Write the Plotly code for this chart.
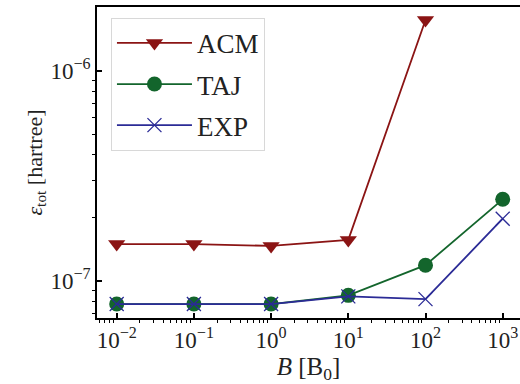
import plotly.graph_objects as go

B = [1e-2, 1e-1, 1e0, 1e1, 1e2, 1e3]
acm_B = [1e-2, 1e-1, 1e0, 1e1, 1e2]
acm = [1.50e-7, 1.50e-7, 1.47e-7, 1.57e-7, 1.75e-6]
taj = [7.77e-8, 7.77e-8, 7.77e-8, 8.55e-8, 1.19e-7, 2.45e-7]
exp_ = [7.77e-8, 7.77e-8, 7.77e-8, 8.45e-8, 8.2e-8, 1.98e-7]
x_ticktext = ["10<sup>−2</sup>", "10<sup>−1</sup>", "10<sup>0</sup>", "10<sup>1</sup>", "10<sup>2</sup>", "10<sup>3</sup>"]
y_tickvals = [1e-7, 1e-6]
y_ticktext = ["10<sup>−7</sup>", "10<sup>−6</sup>"]

C_ACM = "#8b1414"
C_TAJ = "#13652c"
C_EXP = "#2b2b96"
FONT = "Liberation Serif"

fig = go.Figure()
fig.add_trace(go.Scatter(x=acm_B, y=acm, name="ACM", mode="lines+markers", legendgroup="a",
                         line=dict(color=C_ACM, width=1.8),
                         marker=dict(symbol="triangle-down", size=15, color=C_ACM)))
fig.add_trace(go.Scatter(x=B, y=taj, name="TAJ", mode="lines+markers", legendgroup="b",
                         line=dict(color=C_TAJ, width=1.8),
                         marker=dict(symbol="circle", size=15, color=C_TAJ)))
fig.add_trace(go.Scatter(x=B, y=exp_, name="EXP", mode="lines+markers", legendgroup="c",
                         line=dict(color=C_EXP, width=1.8),
                         marker=dict(symbol="x-thin-open", size=14, color=C_EXP,
                                     line=dict(color=C_EXP, width=1.3))))

minor_x = [k * 10.0 ** e for e in range(-3, 4) for k in range(2, 10)]
minor_y = [k * 10.0 ** e for e in range(-8, -5) for k in range(2, 10)]

fig.update_xaxes(type="log", range=[-2.255, 3.224], showgrid=False, zeroline=False,
                 showline=True, linecolor="black", linewidth=1.8, mirror=True,
                 ticks="inside", ticklen=5, tickwidth=1.5, tickcolor="black",
                 tickmode="array", tickvals=B, ticktext=x_ticktext, ticklabeloverflow="allow",
                 tickfont=dict(family=FONT, size=23, color="#222"),
                 minor=dict(ticks="outside", ticklen=3, tickwidth=1, tickcolor="black",
                            tickvals=minor_x, showgrid=False),
                 title=dict(text="<i>B</i> [B<sub>0</sub>]", font=dict(family=FONT, size=25, color="#222"),
                            standoff=0))
fig.update_yaxes(type="log", range=[-7.176, -5.695], showgrid=False, zeroline=False,
                 showline=True, linecolor="black", linewidth=1.8,
                 ticks="inside", ticklen=5, tickwidth=1.5, tickcolor="black",
                 tickmode="array", tickvals=y_tickvals, ticktext=y_ticktext,
                 tickfont=dict(family=FONT, size=23, color="#222"),
                 minor=dict(ticks="outside", ticklen=3, tickwidth=1, tickcolor="black",
                            tickvals=minor_y, showgrid=False),
                 title=dict(text="<i>ε</i><sub>tot</sub> [hartree]", font=dict(family=FONT, size=22, color="#222"),
                            standoff=2))

fig.update_layout(width=520, height=384, margin=dict(l=97, r=0, t=7, b=66),
                  plot_bgcolor="white", paper_bgcolor="white",
                  legend=dict(x=0.033, y=0.965, xanchor="left", yanchor="top",
                              bgcolor="rgba(255,255,255,0.85)", bordercolor="#d8d8d8", borderwidth=1,
                              font=dict(family=FONT, size=27, color="#222"), tracegroupgap=3,
                              itemwidth=75))

fig.write_html("out.html")
